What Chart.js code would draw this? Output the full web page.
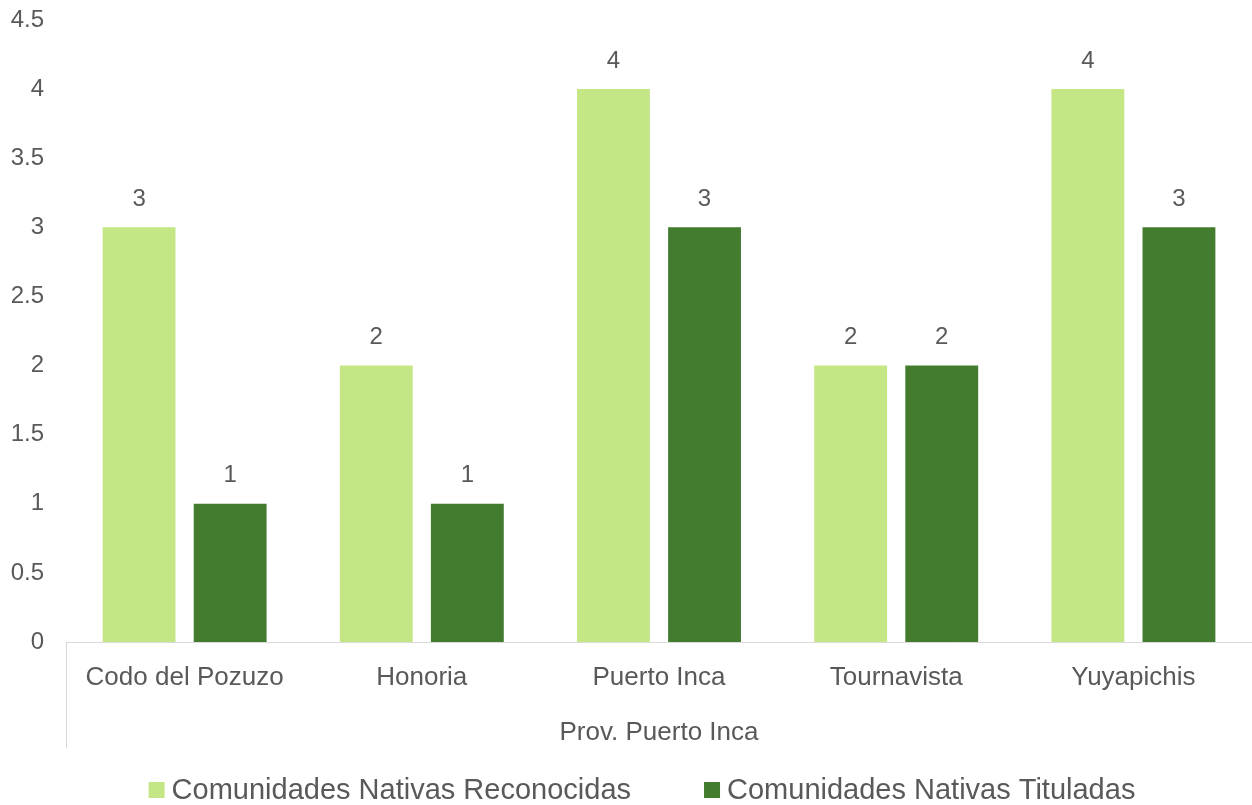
<!DOCTYPE html>
<html>
<head>
<meta charset="utf-8">
<script src="https://cdn.jsdelivr.net/npm/chart.js@4/dist/chart.umd.min.js"></script>
<style>
  html, body { margin: 0; padding: 0; background: #fff; }
  #wrap { width: 1252px; height: 805px; }
</style>
</head>
<body>
<div id="wrap"><canvas id="chart"></canvas></div>
<script>
const districts = ["Codo del Pozuzo", "Honoria", "Puerto Inca", "Tournavista", "Yuyapichis"];
const province = "Prov. Puerto Inca";
const reconocidas = [3, 2, 4, 2, 4];
const tituladas = [1, 1, 3, 2, 3];
const seriesNames = ["Comunidades Nativas Reconocidas", "Comunidades Nativas Tituladas"];
const seriesColors = ["#c5e685", "#437c2f"];

const TEXT = "#595959";
const FONT = "'Liberation Sans', Arial, sans-serif";

// value labels above each bar
const barValues = {
    id: "barValues",
    afterDatasetsDraw(chart) {
        const ctx = chart.ctx;
        ctx.save();
        ctx.fillStyle = TEXT;
        ctx.font = "24px " + FONT;
        ctx.textAlign = "center";
        ctx.textBaseline = "middle";
        chart.data.datasets.forEach((ds, i) => {
            chart.getDatasetMeta(i).data.forEach((bar, j) => {
                ctx.fillText(ds.data[j], bar.x, bar.y - 28);
            });
        });
        ctx.restore();
    }
};

// left border of the category block under the axis
const groupLine = {
    id: "groupLine",
    afterDraw(chart) {
        const ctx = chart.ctx;
        const area = chart.chartArea;
        ctx.save();
        ctx.strokeStyle = "#d9d9d9";
        ctx.lineWidth = 1;
        ctx.beginPath();
        ctx.moveTo(area.left + 0.5, area.bottom);
        ctx.lineTo(area.left + 0.5, chart.scales.x.bottom);
        ctx.stroke();
        ctx.restore();
    }
};

// legend row at the bottom
const bottomLegend = {
    id: "bottomLegend",
    afterDraw(chart) {
        const ctx = chart.ctx;
        const box = 16, gap = 7, spacing = 73;
        const y = chart.height - 15;
        ctx.save();
        ctx.font = "29px " + FONT;
        ctx.textBaseline = "middle";
        const widths = seriesNames.map(t => ctx.measureText(t).width);
        let total = 0;
        widths.forEach((w, i) => { total += box + gap + w + (i ? spacing : 0); });
        let x = chart.width / 2 + 16 - total / 2;
        seriesNames.forEach((t, i) => {
            ctx.fillStyle = seriesColors[i];
            ctx.fillRect(x, y - box / 2, box, box);
            ctx.fillStyle = TEXT;
            ctx.fillText(t, x + box + gap, y + 1);
            x += box + gap + widths[i] + spacing;
        });
        ctx.restore();
    }
};

new Chart(document.getElementById("chart"), {
    type: "bar",
    data: {
        labels: districts,
        datasets: [{
            label: seriesNames[0],
            data: reconocidas,
            backgroundColor: seriesColors[0],
            categoryPercentage: 0.768,
            barPercentage: 0.8
        }, {
            label: seriesNames[1],
            data: tituladas,
            backgroundColor: seriesColors[1],
            categoryPercentage: 0.768,
            barPercentage: 0.8
        }]
    },
    options: {
        responsive: true,
        maintainAspectRatio: false,
        animation: false,
        layout: { padding: { top: 20, right: 0, left: 0, bottom: 57 } },
        plugins: {
            tooltip: { enabled: false },
            legend: { display: false }
        },
        scales: {
            x: {
                grid: { display: false, drawTicks: false },
                border: { color: "#d9d9d9", width: 1 },
                ticks: { color: TEXT, font: { family: FONT, size: 26 }, padding: 20 },
                title: {
                    display: true,
                    text: province,
                    color: TEXT,
                    font: { family: FONT, size: 26 },
                    padding: { top: 0, bottom: 0 }
                },
                afterFit(scale) { scale.height = 106; }
            },
            y: {
                min: 0,
                max: 4.5,
                grid: { display: false, drawTicks: false },
                border: { display: false },
                ticks: {
                    stepSize: 0.5,
                    color: TEXT,
                    font: { family: FONT, size: 24 },
                    padding: 22,
                    callback: v => String(v)
                },
                afterFit(scale) {
                    scale.width = 66;
                    scale.paddingTop = 0;
                    scale.paddingBottom = 0;
                }
            }
        }
    },
    plugins: [barValues, groupLine, bottomLegend]
});
</script>
</body>
</html>
